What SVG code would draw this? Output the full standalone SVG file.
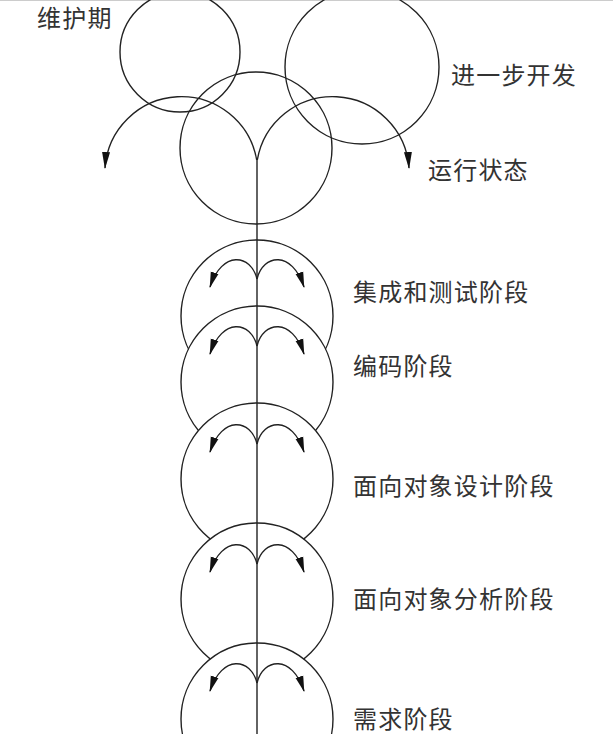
<svg xmlns="http://www.w3.org/2000/svg" width="613" height="734" viewBox="0 0 613 734">
<style>
.c{fill:none;stroke:#222;stroke-width:1.4}
.cw{fill:#fff;stroke:#222;stroke-width:1.4}
.l{fill:none;stroke:#222;stroke-width:1.4}
.t{font-family:"Noto Sans CJK SC","Noto Sans",sans-serif;font-size:24px;letter-spacing:1.2px;fill:#333}
</style>
<defs>
<marker id="ah" markerUnits="userSpaceOnUse" viewBox="0 -5 16 10" markerWidth="16" markerHeight="10" refX="15" refY="0" orient="auto">
<path d="M0,-4 L16,0 L0,4 z" fill="#111"/>
</marker>
<marker id="ahb" markerUnits="userSpaceOnUse" viewBox="0 -5 17 10" markerWidth="17" markerHeight="10" refX="16" refY="0" orient="auto">
<path d="M0,-4 L17,0 L0,4 z" fill="#111"/>
</marker>
</defs>
<rect x="0" y="0" width="613" height="734" fill="#fff"/>
<line x1="0" y1="0.5" x2="613" y2="0.5" stroke="#ccc" stroke-width="1"/>

<g id="maintenance">
<circle class="c" cx="180" cy="52" r="60"/>
<text class="t" x="37" y="27">维护期</text>
</g>
<g id="further-dev">
<circle class="c" cx="362" cy="67" r="77"/>
<text class="t" x="451" y="84">进一步开发</text>
</g>
<g id="running">
<circle class="c" cx="256" cy="148" r="76"/>
<text class="t" x="428" y="179">运行状态</text>
</g>

<g id="integration">
<circle class="cw" cx="257" cy="316" r="76"/>
<text class="t" x="353" y="301">集成和测试阶段</text>
</g>
<g id="coding">
<circle class="cw" cx="257" cy="382" r="76"/>
<text class="t" x="353" y="375">编码阶段</text>
</g>
<g id="oo-design">
<circle class="cw" cx="257" cy="479" r="76"/>
<text class="t" x="353" y="495">面向对象设计阶段</text>
</g>
<g id="oo-analysis">
<circle class="cw" cx="257" cy="599" r="76"/>
<text class="t" x="353" y="608">面向对象分析阶段</text>
</g>
<g id="requirements">
<circle class="cw" cx="257" cy="719" r="76"/>
<text class="t" x="353" y="728">需求阶段</text>
</g>

<g id="connectors">
<line class="l" x1="257" y1="160" x2="257" y2="734"/>
<path class="l" d="M256.7,160 A76.5,76.5 0 0 0 105,168" marker-end="url(#ahb)"/>
<path class="l" d="M257.3,160 A76.5,76.5 0 0 1 409,168" marker-end="url(#ahb)"/>

<path class="l" d="M257,279 C251,254 222,250 210,287" marker-end="url(#ah)"/>
<path class="l" d="M257,279 C263,254 292,250 304,287" marker-end="url(#ah)"/>

<path class="l" d="M257,346 C251,321 222,317 210,354" marker-end="url(#ah)"/>
<path class="l" d="M257,346 C263,321 292,317 304,354" marker-end="url(#ah)"/>

<path class="l" d="M257,444 C251,419 222,415 210,452" marker-end="url(#ah)"/>
<path class="l" d="M257,444 C263,419 292,415 304,452" marker-end="url(#ah)"/>

<path class="l" d="M257,564 C251,539 222,535 210,572" marker-end="url(#ah)"/>
<path class="l" d="M257,564 C263,539 292,535 304,572" marker-end="url(#ah)"/>

<path class="l" d="M257,683 C251,658 222,654 210,691" marker-end="url(#ah)"/>
<path class="l" d="M257,683 C263,658 292,654 304,691" marker-end="url(#ah)"/>
</g>
</svg>
